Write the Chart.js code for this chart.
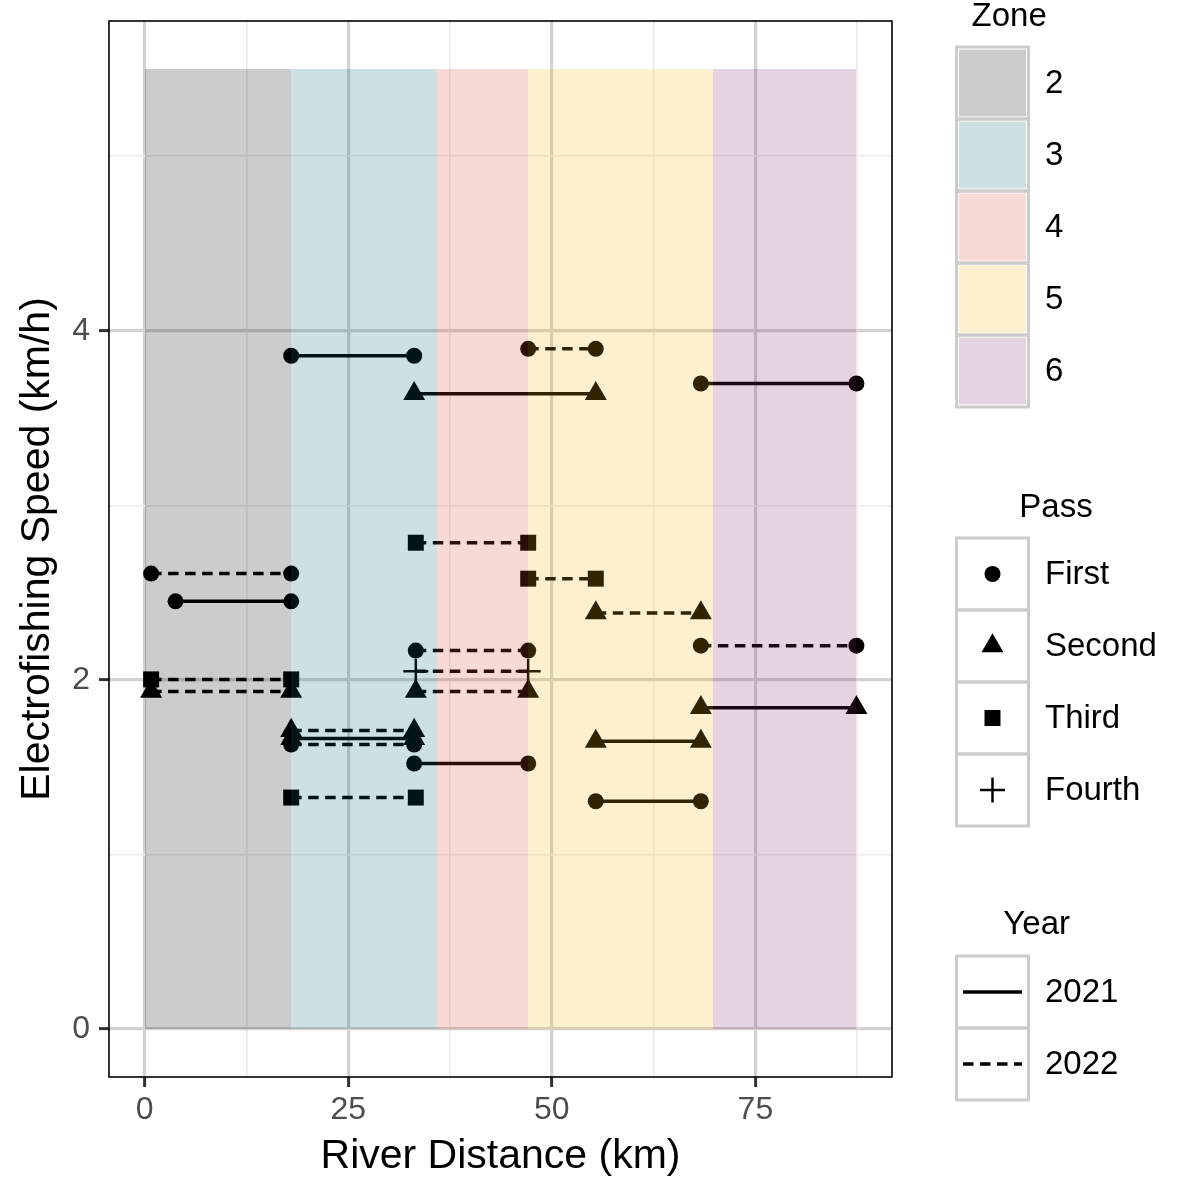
<!DOCTYPE html>
<html><head><meta charset="utf-8">
<script src="https://cdn.jsdelivr.net/npm/chart.js@4.4.1/dist/chart.umd.min.js"></script>
<style>html,body{margin:0;padding:0;background:#fff}canvas{display:block}</style>
</head><body>
<canvas id="c" width="1200" height="1200"></canvas>
<script>
// ---- tick labels ----
const xTickValues = [0, 25, 50, 75];
const xMinorValues = [12.5, 37.5, 62.5, 87.5];
const yTickValues = [0, 2, 4];
const yMinorValues = [1, 3, 5];

// ---- zones ----
const zoneNames = ['2', '3', '4', '5', '6'];
const zoneStart = [0, 18.0, 35.9, 47.1, 69.8];
const zoneEnd = [18.0, 35.9, 47.1, 69.8, 87.4];
const zoneTop = 5.5;
const zoneColors = ['rgba(0,0,0,0.2)', 'rgba(5,105,115,0.2)', 'rgba(220,70,40,0.2)', 'rgba(245,180,15,0.2)', 'rgba(130,35,110,0.2)'];

// ---- segments (river km start, end, speed km/h, pass, year) ----
const segStart = [18.0, 47.1, 33.1, 68.3, 33.3, 47.1, 55.4, 68.3, 0.8, 3.8, 0.8, 0.8, 18.0, 18.0, 18.0, 33.1, 55.4, 68.3, 55.4, 18.0, 33.3, 33.3, 33.3];
const segEnd   = [33.1, 55.4, 55.4, 87.4, 47.1, 55.4, 68.3, 87.4, 18.0, 18.0, 18.0, 18.0, 33.1, 33.1, 33.1, 47.1, 68.3, 87.4, 68.3, 33.3, 47.1, 47.1, 47.1];
const segSpeed = [3.857, 3.897, 3.64, 3.698, 2.786, 2.58, 2.384, 2.196, 2.609, 2.450, 2.003, 1.934, 1.71, 1.664, 1.63, 1.521, 1.648, 1.841, 1.305, 1.326, 2.168, 2.050, 1.934];
const segPass  = ['First','First','Second','First','Third','Third','Second','First','First','First','Third','Second','Second','Second','First','First','Second','Second','First','Third','First','Fourth','Second'];
const segYear  = ['2021','2022','2021','2021','2022','2022','2022','2022','2022','2021','2022','2022','2022','2021','2022','2021','2021','2021','2021','2022','2022','2022','2022'];

const passNames = ['First', 'Second', 'Third', 'Fourth'];
const yearNames = ['2021', '2022'];

// ---- styles ----
const FAMILY = '"Liberation Sans", Arial, Helvetica, sans-serif';
const passStyle = {
  First:  {pointStyle: 'circle',   radius: 8,    border: 0},
  Second: {pointStyle: 'triangle', radius: 12.7, border: 0},
  Third:  {pointStyle: 'rect',     radius: 11.3, border: 0},
  Fourth: {pointStyle: 'cross',    radius: 12.5, border: 2.5}
};
const DASH = [10.5, 6.5];

Chart.defaults.font.family = FAMILY;

const datasets = segStart.map((s, i) => {
  const ps = passStyle[segPass[i]];
  return {
    data: [{x: s, y: segSpeed[i]}, {x: segEnd[i], y: segSpeed[i]}],
    borderColor: '#000',
    backgroundColor: '#000',
    borderWidth: 3.5,
    borderDash: segYear[i] === '2022' ? DASH : [],
    pointStyle: ps.pointStyle,
    pointRadius: ps.radius,
    pointBackgroundColor: '#000',
    pointBorderColor: '#000',
    pointBorderWidth: ps.border,
    tension: 0,
    fill: false
  };
});

const isIn = (arr, v) => arr.some(a => Math.abs(a - v) < 1e-9);

const zonesPlugin = {
  id: 'zones',
  afterDatasetsDraw(chart) {
    const {ctx, chartArea: ca, scales: {x, y}} = chart;
    ctx.save();
    ctx.beginPath();
    ctx.rect(ca.left, ca.top, ca.width, ca.height);
    ctx.clip();
    const yT = Math.round(y.getPixelForValue(zoneTop));
    const yB = Math.round(y.getPixelForValue(0));
    zoneNames.forEach((z, i) => {
      const x0 = Math.round(x.getPixelForValue(zoneStart[i]));
      const x1 = Math.round(x.getPixelForValue(zoneEnd[i]));
      ctx.fillStyle = zoneColors[i];
      ctx.fillRect(x0, yT, x1 - x0, yB - yT);
    });
    ctx.restore();
  },
  afterDraw(chart) {
    const {ctx, chartArea: ca} = chart;
    ctx.save();
    ctx.strokeStyle = '#000';
    ctx.lineWidth = 1.6;
    ctx.strokeRect(ca.left, ca.top, ca.width, ca.height);
    ctx.restore();
  }
};

function drawShape(ctx, style, r, x, y, bw) {
  ctx.save();
  ctx.fillStyle = '#000';
  ctx.strokeStyle = '#000';
  ctx.lineWidth = bw || 0;
  ctx.beginPath();
  if (style === 'circle') {
    ctx.arc(x, y, r, 0, Math.PI * 2);
    ctx.fill();
  } else if (style === 'triangle') {
    for (let k = 0; k < 3; k++) {
      const a = k * 2 * Math.PI / 3;
      const px = x + Math.sin(a) * r, py = y - Math.cos(a) * r;
      if (k === 0) ctx.moveTo(px, py); else ctx.lineTo(px, py);
    }
    ctx.closePath();
    ctx.fill();
  } else if (style === 'rect') {
    const s = r * Math.SQRT1_2;
    ctx.rect(x - s, y - s, 2 * s, 2 * s);
    ctx.fill();
  } else if (style === 'cross') {
    ctx.moveTo(x - r, y); ctx.lineTo(x + r, y);
    ctx.moveTo(x, y - r); ctx.lineTo(x, y + r);
    ctx.stroke();
  }
  ctx.restore();
}

function drawLegendBlock(ctx, title, titleY, firstTop, labels, drawKey) {
  const cellL = 956.5, cell = 72, labelX = 1045;
  ctx.save();
  ctx.font = '33px ' + FAMILY;
  let maxW = 0;
  labels.forEach(l => { maxW = Math.max(maxW, ctx.measureText(l).width); });
  const center = (955 + labelX + maxW) / 2;
  ctx.fillStyle = '#000';
  ctx.textBaseline = 'middle';
  ctx.textAlign = 'center';
  ctx.fillText(title, center, titleY);
  labels.forEach((l, i) => {
    const top = firstTop + i * cell;
    ctx.fillStyle = '#fff';
    ctx.fillRect(cellL, top, cell, cell);
    drawKey(ctx, cellL, top, cell, i);
  });
  ctx.strokeStyle = '#cccccc';
  ctx.lineWidth = 3;
  labels.forEach((l, i) => {
    ctx.strokeRect(cellL, firstTop + i * cell, cell, cell);
  });
  ctx.fillStyle = '#000';
  ctx.textAlign = 'left';
  labels.forEach((l, i) => {
    ctx.fillText(l, labelX, firstTop + i * cell + cell / 2 + 1);
  });
  ctx.restore();
}

const legendPlugin = {
  id: 'ggLegends',
  afterDraw(chart) {
    const ctx = chart.ctx;
    drawLegendBlock(ctx, 'Zone', 17, 47, zoneNames, (c, l, t, s, i) => {
      c.fillStyle = zoneColors[i];
      c.fillRect(l + 2.5, t + 2.5, s - 5, s - 5);
    });
    drawLegendBlock(ctx, 'Pass', 508, 538, passNames, (c, l, t, s, i) => {
      const ps = passStyle[passNames[i]];
      drawShape(c, ps.pointStyle, ps.radius, l + s / 2, t + s / 2, ps.border);
    });
    drawLegendBlock(ctx, 'Year', 925, 956, yearNames, (c, l, t, s, i) => {
      c.save();
      c.strokeStyle = '#000';
      c.lineWidth = 3.5;
      c.setLineDash(yearNames[i] === '2022' ? DASH : []);
      c.beginPath();
      c.moveTo(l + 6.5, t + s / 2);
      c.lineTo(l + 65.5, t + s / 2);
      c.stroke();
      c.restore();
    });
  }
};

const allX = [...xTickValues, ...xMinorValues].sort((a, b) => a - b);
const allY = [...yTickValues, ...yMinorValues].sort((a, b) => a - b);

function gridOpts(major) {
  return {
    color: ctx => (ctx.tick && isIn(major, ctx.tick.value)) ? '#d2d2d2' : '#ebebeb',
    lineWidth: ctx => (ctx.tick && isIn(major, ctx.tick.value)) ? 3.2 : 1.6,
    tickColor: ctx => (ctx.tick && isIn(major, ctx.tick.value)) ? '#333333' : 'rgba(0,0,0,0)',
    tickWidth: 3,
    tickLength: 10,
    drawOnChartArea: true
  };
}

function zeroPad(s) {
  s.paddingTop = 0; s.paddingBottom = 0; s.paddingLeft = 0; s.paddingRight = 0;
}

new Chart(document.getElementById('c'), {
  type: 'line',
  data: {datasets},
  options: {
    responsive: false,
    animation: false,
    events: [],
    layout: {padding: {left: 0, top: 21, right: 308, bottom: 0}},
    plugins: {legend: {display: false}, tooltip: {enabled: false}},
    scales: {
      x: {
        type: 'linear', min: -4.37, max: 91.77,
        afterBuildTicks: s => { s.ticks = allX.map(v => ({value: v})); },
        afterFit: s => { s.height = 123; zeroPad(s); },
        ticks: {autoSkip: false, maxRotation: 0, minRotation: 0, padding: 4, color: '#4d4d4d',
          font: {size: 32, family: FAMILY},
          callback: v => isIn(xTickValues, v) ? String(v) : ''},
        grid: gridOpts(xTickValues),
        border: {display: false},
        title: {display: true, text: 'River Distance (km)', color: '#000',
          font: {size: 41, family: FAMILY}, padding: {top: 0, bottom: 19}}
      },
      y: {
        type: 'linear', min: -0.275, max: 5.775,
        afterBuildTicks: s => { s.ticks = allY.map(v => ({value: v})); },
        afterFit: s => { s.width = 109; zeroPad(s); },
        ticks: {autoSkip: false, padding: 9, color: '#4d4d4d',
          font: {size: 32, family: FAMILY},
          callback: v => isIn(yTickValues, v) ? String(v) : ''},
        grid: gridOpts(yTickValues),
        border: {display: false},
        title: {display: true, text: 'Electrofishing Speed (km/h)', color: '#000',
          font: {size: 41, family: FAMILY}, padding: {top: 13, bottom: 0}}
      }
    }
  },
  plugins: [zonesPlugin, legendPlugin]
});
</script>
</body></html>
